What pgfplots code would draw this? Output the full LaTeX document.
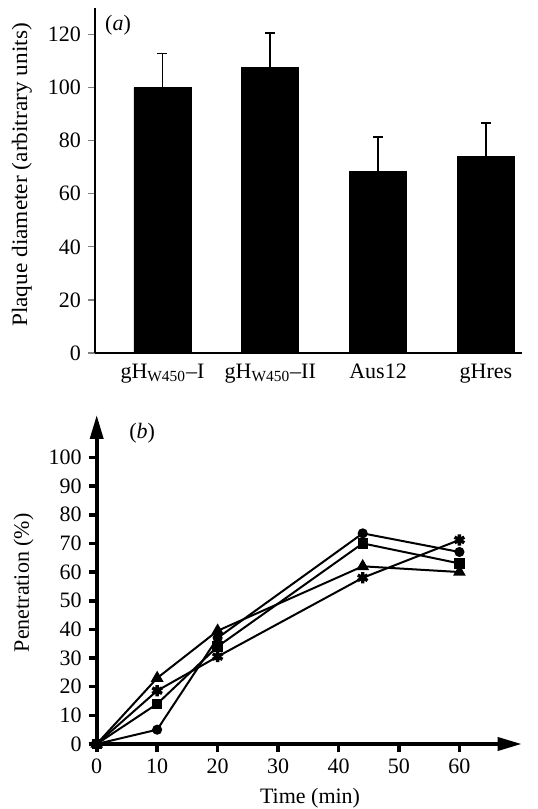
\documentclass[border=0pt]{standalone}
\usepackage{fontspec}
\setmainfont{Liberation Serif}
\usepackage{pgfplots}
\pgfplotsset{compat=1.18}
\usetikzlibrary{arrows.meta}

\newcommand\myfs{\fontsize{11}{13}\selectfont}
\pgfplotsset{
  every tick label/.append style={font=\myfs},
  every axis label/.append style={font=\myfs},
}

\begin{document}
\begin{tikzpicture}
\path[use as bounding box] (0,0) rectangle (268.5pt,404.5pt);

% (a) plaque diameter
\begin{axis}[
    at={(47.5pt,228pt)}, anchor=south west,
    scale only axis, width=213.5pt, height=172.5pt,
    xmin=-0.626, xmax=3.335, ymin=0, ymax=130,
    axis lines=left, axis line style={-, line width=0.6pt},
    ytick={0,20,...,120}, tick align=outside, major tick length=3.5pt,
    ytick style={line width=0.6pt},
    xtick={0,1,2,3}, xtick style={draw=none},
    xticklabels={gH\textsubscript{W450}--I, gH\textsubscript{W450}--II, Aus12, gHres},
    xticklabel style={yshift=1.5pt},
    /pgf/number format/assume math mode=true,
    ylabel={\scalebox{1.06}[1]{Plaque diameter (arbitrary units)}},
    ylabel style={at={(axis description cs:-0.171,0.516)}, anchor=center},
    clip=false,
]
\addplot[ybar, bar width=0.53, fill=black, draw=black,
  error bars/.cd, y dir=plus, y explicit,
  error bar style={line width=0.8pt},
  error mark options={rotate=90, mark size=2.5pt, line width=0.8pt}]
  coordinates {(0,100) +- (0,12.8) (1,107.5) +- (0,13) (2,68.5) +- (0,13) (3,74) +- (0,12.7)};
\node[font=\myfs] at (rel axis cs:0.054,0.951) {(\textit{a})};
\end{axis}

% (b) penetration
\begin{axis}[
    at={(48.35pt,32.5pt)}, anchor=south west,
    scale only axis, width=212.5pt, height=164.5pt,
    xmin=0, xmax=70.3, ymin=0, ymax=114.8,
    axis lines=left,
    axis line style={line width=1.8pt, -{Triangle[length=12pt,width=6.5pt]}},
    xtick={0,10,...,60}, ytick={0,10,...,100},
    tick align=outside, major tick length=4pt,
    tick style={line width=1.8pt, black},
    /pgf/number format/assume math mode=true,
    xlabel={Time (min)}, ylabel={Penetration (\%)},
    xlabel style={at={(axis description cs:0.502,-0.164)}, anchor=center},
    ylabel style={at={(axis description cs:-0.172,0.49)}, anchor=center},
    clip=false,
]
\addplot[black, line width=1pt, mark=*, mark size=2pt] coordinates {(0,0) (10,5) (20,37) (44,73.5) (60,67)};
\addplot[black, line width=1pt, mark=square*, mark size=2.1pt] coordinates {(0,0) (10,14) (20,34) (44,70) (60,63)};
\addplot[black, line width=1pt, mark=triangle*, mark size=2.7pt] coordinates {(0,0) (10,23) (20,39.5) (44,62) (60,60)};
\addplot[black, line width=1pt, mark=asterisk, mark size=2.8pt, mark options={line width=1.7pt}] coordinates {(0,0) (10,18.6) (20,30.5) (44,58) (60,71.2)};
\node[font=\myfs] at (rel axis cs:0.107,0.945) {(\textit{b})};
\end{axis}
\end{tikzpicture}
\end{document}
